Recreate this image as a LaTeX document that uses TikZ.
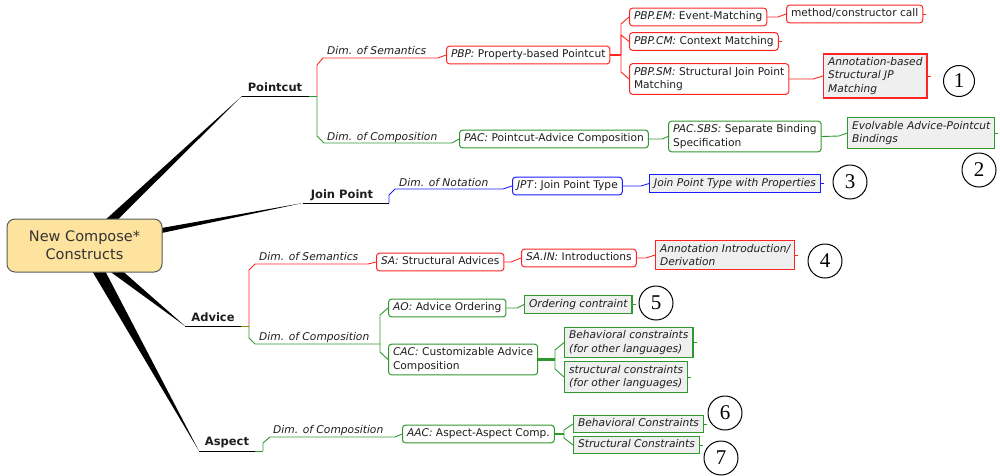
\documentclass[tikz,border=0pt]{standalone}
\usepackage{fontspec}
\setmainfont{DejaVu Sans}
\newfontfamily\numfont{Liberation Serif}
\usetikzlibrary{calc}
\pgfdeclarelayer{background}
\pgfsetlayers{background,main}

\definecolor{cred}{HTML}{FF2424}
\definecolor{cgreen}{HTML}{2F982F}
\definecolor{cblue}{HTML}{1C1CFF}
\definecolor{leafgray}{HTML}{EFEFEF}
\definecolor{rootfill}{HTML}{FDE39D}
\definecolor{rootline}{HTML}{5A5A5A}
\definecolor{textc}{HTML}{1E1E1E}

\newcommand{\mapboxfont}{\fontsize{10.65}{13.5}\selectfont}
\newcommand{\maplabelfont}{\fontsize{10.7}{12}\selectfont\itshape}
\newcommand{\maptopfont}{\fontsize{11.5}{13}\selectfont\bfseries}
\newcommand{\maprootfont}{\fontsize{14.5}{18}\selectfont}

\begin{document}
\begin{tikzpicture}[x=1pt,y=-1pt,
  box/.style={draw, rounded corners=3pt, fill=white, line width=1pt,
    font=\mapboxfont, text=textc, inner xsep=4.5pt, inner ysep=3.6pt,
    anchor=west, text height=8pt, text depth=2.5pt},
  boxtwo/.style={draw, rounded corners=3pt, fill=white, line width=1pt,
    font=\mapboxfont, text=textc, inner xsep=4.5pt, inner ysep=3.4pt,
    anchor=west, align=left},
  leaf/.style={box, sharp corners, fill=leafgray, font=\mapboxfont\itshape, line width=1.2pt},
  leaftwo/.style={boxtwo, sharp corners, fill=leafgray, font=\mapboxfont\itshape, line width=1.2pt},
  dimlbl/.style={font=\maplabelfont, text=textc, inner sep=0pt, anchor=base west},
  toplbl/.style={font=\maptopfont, text=textc, inner sep=0pt, anchor=base},
  conn/.style={line width=0.9pt},
  fork/.style={line width=2.2pt},
  numcirc/.style={circle, draw, line width=1pt, minimum size=34pt, inner sep=0pt,
    font=\numfont\fontsize{21}{21}\selectfont},
  wedge/.style={fill=black}
]
\useasboundingbox (0,0) rectangle (1000,475);

% ---------- central topic ----------
\node[draw=rootline, fill=rootfill, line width=1pt, rounded corners=8pt,
      minimum width=155pt, minimum height=53pt, align=center,
      font=\maprootfont, text=black!80] (root) at (84.5,245.5) {New Compose*\\Constructs};

% ends of the four main branches and their forks
\coordinate (pcT) at (242,96);   \coordinate (pcF) at (317,96);
\coordinate (jpT) at (303,203);  \coordinate (jpF) at (389,203);
\coordinate (advT) at (185,326); \coordinate (advF) at (249,326);
\coordinate (aspT) at (199,451); \coordinate (aspF) at (263,451);

% tapered main branches
\begin{pgfonlayer}{background}
  \fill[wedge] ($(root.center)!5pt!90:(pcT)$) -- (pcT) -- ($(root.center)!5pt!-90:(pcT)$) -- cycle;
  \fill[wedge] ($(root.center)!3.8pt!90:(jpT)$) -- (jpT) -- ($(root.center)!3.8pt!-90:(jpT)$) -- cycle;
  \fill[wedge] ($(root.center)!6pt!90:(advT)$) -- (advT) -- ($(root.center)!6pt!-90:(advT)$) -- cycle;
  \fill[wedge] ($(root.center)!6.5pt!90:(aspT)$) -- (aspT) -- ($(root.center)!6.5pt!-90:(aspT)$) -- cycle;
\end{pgfonlayer}

% main branch titles
\node[toplbl] (pc)  at (275,91)  {Pointcut};
\node[toplbl] (jp)  at (342,198) {Join Point};
\node[toplbl] (adv) at (213,321) {Advice};
\node[toplbl] (asp) at (227,445) {Aspect};

% dimension labels
\node[dimlbl] (pcsem)  at (327,54)  {Dim. of Semantics};
\node[dimlbl] (pccomp) at (327,140) {Dim. of Composition};
\node[dimlbl] (jpnot)  at (399,186) {Dim. of Notation};
\node[dimlbl] (advsem) at (259,260) {Dim. of Semantics};
\node[dimlbl] (advcomp) at (259,340) {Dim. of Composition};
\node[dimlbl] (aspcomp) at (273,433) {Dim. of Composition};

% ---------- Pointcut ----------
\node[box, draw=cred] (pbp) at (446,55) {\textit{PBP:} Property-based Pointcut};
\node[box, draw=cred] (em)  at (629,17) {\textit{PBP.EM:} Event-Matching};
\node[box, draw=cred] (mcc) at (786,14) {method/constructor call};
\node[box, draw=cred] (cm)  at (629,41.5) {\textit{PBP.CM:} Context Matching};
\node[boxtwo, draw=cred] (sm) at (629,79) {\textit{PBP.SM:} Structural Join Point\\Matching};
\node[leaftwo, draw=cred] (anb) at (823,76) {Annotation-based\\Structural JP\\Matching};
\node[numcirc, minimum size=31pt] (n1) at (959,81) {1};

\node[box, draw=cgreen] (pac) at (459,139) {\textit{PAC:} Pointcut-Advice Composition};
\node[boxtwo, draw=cgreen] (sbs) at (668,136.5) {\textit{PAC.SBS:} Separate Binding\\Specification};
\node[leaftwo, draw=cgreen] (evo) at (847,133) {Evolvable Advice-Pointcut\\Bindings};
\node[numcirc] (n2) at (979,170) {2};

% ---------- Join Point ----------
\node[box, draw=cblue] (jpt) at (512,186) {\textit{JPT}: Join Point Type};
\node[leaf, draw=cblue] (jptp) at (649,183.5) {Join Point Type with Properties};
\node[numcirc] (n3) at (850,182) {3};

% ---------- Advice ----------
\node[box, draw=cred] (sa)   at (376,262) {\textit{SA:} Structural Advices};
\node[box, draw=cred] (sain) at (521,258) {\textit{SA.IN:} Introductions};
\node[leaftwo, draw=cred] (ain) at (655,255) {Annotation Introduction/\\Derivation};
\node[numcirc] (n4) at (825,261) {4};

\node[box, draw=cgreen] (ao) at (388,308) {\textit{AO:} Advice Ordering};
\node[leaf, draw=cgreen] (oc) at (524,304.5) {Ordering contraint};
\node[numcirc] (n5) at (656,303) {5};
\node[boxtwo, draw=cgreen] (cac) at (388,359.5) {\textit{CAC:} Customizable Advice\\Composition};
\node[leaftwo, draw=cgreen] (bc)  at (564,342.5) {Behavioral constraints\\(for other languages)};
\node[leaftwo, draw=cgreen] (scn) at (564,377) {structural constraints\\(for other languages)};

% ---------- Aspect ----------
\node[box, draw=cgreen] (aac) at (402,434) {\textit{AAC:} Aspect-Aspect Comp.};
\node[leaf, draw=cgreen] (bc2) at (573,424) {Behavioral Constraints};
\node[leaf, draw=cgreen] (sc2) at (573,445) {Structural Constraints};
\node[numcirc] (n6) at (725,413) {6};
\node[numcirc] (n7) at (721,458) {7};

% ---------- connectors ----------
% Pointcut
\draw[conn] (pcT) -- (309,96);
\draw[conn, cgreen] (309,96) -- (pcF);
\draw[conn, cred] (pcF) -- (317,65) -- (323,58) -- (438,58) -- (pbp.west);
\draw[conn, cgreen] (pcF) -- (317,136) -- (324,143) -- (452,143) -- (pac.west);
\coordinate (pbpF) at (621,55);
\draw[fork, cred] (pbp.east) -- (pbpF);
\draw[conn, cred] (pbpF) -- (621,24) -- (em.west);
\draw[conn, cred] (pbpF) -- (621,35) -- (cm.west);
\draw[conn, cred] (pbpF) -- (621,72) -- (sm.west);
\draw[conn, cred] (em.east) -- (778,17) -- (mcc.west);
\draw[conn, cred] (sm.east) -- (813,79) -- (anb.west);
\draw[conn, cgreen] (pac.east) -- (662,139) -- (sbs.west);
\draw[conn, cgreen] (sbs.east) -- (839,136) -- (evo.west);

% Join Point
\draw[conn] (jpT) -- (jpF);
\draw[conn, cblue] (jpF) -- (389,195) -- (395,189) -- (503,189) -- (jpt.west);
\draw[conn, cblue] (jpt.east) -- (641,186) -- (jptp.west);

% Advice
\draw[conn] (advT) -- (241,326);
\draw[conn, olive] (241,326) -- (advF);
\draw[conn, cred] (advF) -- (249,270) -- (255,264) -- (368,264) -- (sa.west);
\draw[conn, cred] (sa.east) -- (511,262) -- (sain.west);
\draw[conn, cred] (sain.east) -- (646,258) -- (ain.west);
\coordinate (advCF) at (380,344);
\draw[conn, cgreen] (advF) -- (249,338) -- (255,344) -- (advCF);
\draw[conn, cgreen] (advCF) -- (380,315) -- (ao.west);
\draw[conn, cgreen] (advCF) -- (380,352) -- (cac.west);
\draw[conn, cgreen] (ao.east) -- (517,308) -- (oc.west);
\coordinate (cacF) at (555,359.5);
\draw[fork, cgreen] (cac.east) -- (cacF);
\draw[conn, cgreen] (cacF) -- (555,350) -- (bc.west);
\draw[conn, cgreen] (cacF) -- (555,369) -- (scn.west);

% Aspect
\draw[conn] (aspT) -- (255,451);
\draw[conn, cgreen] (255,451) -- (aspF);
\draw[conn, cgreen] (aspF) -- (263,443) -- (270,437) -- (395,437) -- (aac.west);
\coordinate (aacF) at (564,434);
\draw[fork, cgreen] (aac.east) -- (aacF);
\draw[conn, cgreen] (aacF) -- (564,430) -- (bc2.west);
\draw[conn, cgreen] (aacF) -- (564,438) -- (sc2.west);

% small collapse ticks on the leaf boxes
\foreach \n in {mcc,cm,anb,ain} \draw[conn, cred] (\n.east) -- ++(3,0);
\foreach \n in {evo,oc,bc,scn,bc2,sc2} \draw[conn, cgreen] (\n.east) -- ++(3,0);
\draw[conn, cblue] (jptp.east) -- ++(3,0);
\end{tikzpicture}
\end{document}
